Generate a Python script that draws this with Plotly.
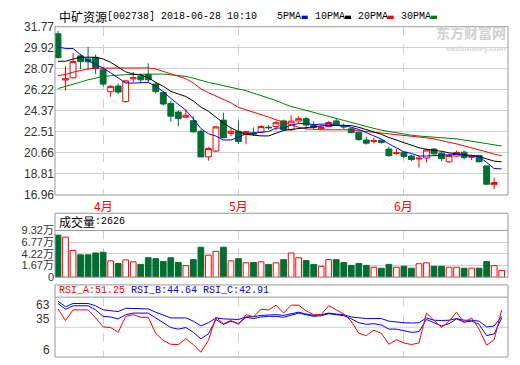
import plotly.graph_objects as go

W, H = 520, 365

# ---------------- data ----------------
x_pos = list(range(1, 61))
month_ticks = [7, 25, 47]
month_labels = ["4月", "5月", "6月"]

open_ = [31.15, 27.08, 27.27, 29.20, 28.93, 29.08, 27.98, 26.05, 26.55, 25.18,
         27.18, 27.42, 27.58, 26.72, 25.97, 25.02, 24.26, 23.80, 23.50, 22.57,
         20.32, 20.83, 23.55, 22.38, 22.57, 22.30, 22.43, 22.50, 22.93, 22.98,
         23.48, 22.70, 23.47, 23.68, 23.10, 22.80, 22.98, 23.48, 23.02, 22.78,
         22.47, 21.80, 21.68, 21.77, 21.00, 20.62, 20.73, 20.39, 20.13, 20.22,
         21.00, 20.64, 19.88, 20.39, 20.73, 20.28, 20.44, 19.52, 17.87, None]
high = [31.40, 28.30, 29.45, 29.38, 30.00, 29.30, 28.18, 26.65, 26.78, 27.10,
        27.78, 27.64, 28.55, 26.88, 26.10, 25.24, 24.40, 24.48, 23.90, 22.71,
        21.18, 23.05, 24.20, 22.85, 23.50, 22.57, 22.91, 23.12, 23.12, 23.50,
        23.60, 23.96, 23.90, 23.84, 23.45, 23.12, 23.48, 23.74, 23.25, 22.90,
        22.56, 22.10, 22.00, 21.85, 21.20, 21.00, 20.80, 20.50, 20.42, 21.05,
        21.10, 20.78, 20.59, 20.87, 20.87, 20.50, 20.50, 19.55, 18.48, None]
low = [28.98, 26.15, 27.22, 28.03, 27.98, 27.62, 26.50, 25.60, 25.82, 25.08,
       26.88, 26.80, 26.85, 25.86, 24.82, 23.42, 23.02, 23.78, 22.43, 20.31,
       19.98, 20.73, 21.95, 22.15, 21.44, 21.42, 22.15, 22.42, 22.68, 22.62,
       22.60, 22.60, 23.30, 22.72, 22.75, 22.70, 22.92, 23.05, 22.78, 22.40,
       21.71, 21.40, 21.48, 21.48, 20.30, 20.50, 20.22, 19.95, 19.38, 19.80,
       20.50, 19.94, 19.80, 20.30, 20.08, 20.02, 19.82, 17.86, 17.47, None]
close = [29.05, 27.20, 28.70, 28.70, 28.68, 28.08, 26.72, 26.52, 26.02, 27.00,
         27.28, 27.10, 27.10, 26.06, 24.97, 23.90, 23.70, 23.98, 22.52, 20.31,
         21.05, 22.95, 22.00, 22.57, 21.67, 22.55, 22.32, 22.98, 22.88, 23.32,
         22.70, 23.46, 23.68, 23.12, 22.90, 22.90, 23.34, 23.12, 22.96, 22.45,
         21.85, 21.52, 21.74, 21.57, 20.44, 20.67, 20.36, 20.08, 20.20, 20.92,
         20.58, 20.16, 20.44, 20.70, 20.25, 20.33, 19.88, 17.91, 18.06, None]

ma5 = [29.99, 29.85, 29.85, 29.35, 28.78, 28.45, 28.14, 27.71, 27.24, 26.81,
       26.81, 26.87, 26.87, 26.53, 26.05, 25.46, 24.90, 24.42, 23.66, 22.81,
       22.35, 22.15, 21.80, 21.80, 22.05, 22.35, 22.40, 22.50, 22.55, 22.85,
       22.85, 23.10, 23.25, 23.25, 23.15, 23.20, 23.20, 23.10, 23.10, 22.92,
       22.73, 22.45, 22.16, 21.88, 21.46, 21.12, 20.76, 20.62, 20.39, 20.39,
       20.42, 20.47, 20.47, 20.53, 20.47, 20.42, 20.33, 19.83, 19.29, 19.26]
ma10 = [28.73, 28.73, 28.93, 29.07, 29.09, 29.07, 28.93, 28.64, 28.22, 27.80,
        27.60, 27.52, 27.29, 26.87, 26.53, 26.08, 25.85, 25.63, 25.23, 24.70,
        24.33, 23.80, 23.29, 22.87, 22.53, 22.30, 22.22, 22.16, 22.16, 22.39,
        22.64, 22.73, 22.81, 22.92, 22.98, 23.04, 23.07, 23.07, 23.07, 23.07,
        22.92, 22.73, 22.50, 22.30, 22.02, 21.80, 21.60, 21.38, 21.12, 20.98,
        20.90, 20.81, 20.67, 20.56, 20.50, 20.45, 20.36, 20.14, 19.94, 19.88]
ma20 = [27.46, 27.57, 27.77, 27.94, 28.05, 28.12, 28.14, 28.14, 28.14, 28.14,
        28.14, 28.14, 28.14, 28.05, 27.85, 27.60, 27.43, 27.20, 26.81, 26.30,
        25.97, 25.66, 25.38, 25.07, 24.67, 24.47, 24.28, 24.08, 23.82, 23.58,
        23.36, 23.10, 22.92, 22.78, 22.72, 22.70, 22.70, 22.70, 22.70, 22.70,
        22.62, 22.55, 22.48, 22.42, 22.36, 22.30, 22.26, 22.18, 22.08, 21.99,
        21.90, 21.78, 21.60, 21.46, 21.30, 21.14, 20.96, 20.76, 20.56, 20.41]
ma30 = [26.33, 26.50, 26.67, 26.90, 27.10, 27.26, 27.38, 27.46, 27.52, 27.55,
        27.57, 27.60, 27.60, 27.60, 27.60, 27.55, 27.49, 27.40, 27.24, 27.03,
        26.87, 26.73, 26.59, 26.42, 26.28, 26.14, 25.92, 25.72, 25.50, 25.27,
        25.00, 24.75, 24.58, 24.40, 24.22, 24.05, 23.88, 23.70, 23.50, 23.33,
        23.15, 22.98, 22.82, 22.67, 22.55, 22.45, 22.32, 22.22, 22.15, 22.10,
        22.06, 22.02, 21.96, 21.90, 21.80, 21.70, 21.58, 21.48, 21.36, 21.27]

volume = [8.30, 7.88, 4.97, 4.00, 4.00, 4.41, 4.56, 2.69, 2.13, 2.90,
          2.48, 1.92, 3.37, 3.17, 2.54, 3.37, 2.33, 1.65, 2.96, 5.66,
          3.93, 4.76, 5.66, 2.69, 3.17, 2.27, 2.33, 2.48, 1.92, 2.27,
          2.96, 4.41, 3.37, 2.75, 1.92, 1.50, 2.96, 2.96, 2.33, 1.71,
          2.13, 1.71, 1.29, 1.09, 1.92, 1.29, 1.50, 1.09, 2.06, 2.27,
          1.50, 1.50, 1.29, 1.29, 1.09, 1.09, 1.09, 2.54, 1.65, 0.60]

rsi_a = [58.2, 43.5, 57.0, 57.0, 57.0, 46.8, 35.4, 34.6, 28.5, 48.8,
         50.9, 47.6, 47.6, 27.0, 18.3, 13.4, 13.0, 20.4, 13.0, 3.3,
         18.3, 47.6, 39.5, 43.5, 38.7, 50.9, 48.4, 57.8, 57.0, 63.0,
         52.9, 63.0, 63.0, 55.7, 50.9, 50.9, 62.5, 57.0, 51.7, 42.7,
         27.3, 24.4, 31.3, 27.3, 13.4, 19.1, 15.1, 13.0, 15.1, 52.9,
         43.5, 34.6, 42.7, 54.1, 40.7, 46.8, 32.6, 12.2, 19.1, 57.0]
rsi_b = [65.1, 57.8, 62.2, 62.2, 62.2, 57.0, 48.8, 48.0, 45.6, 50.9,
         52.9, 52.9, 52.9, 46.8, 40.7, 34.6, 32.6, 34.6, 28.5, 20.4,
         26.5, 44.8, 38.7, 42.7, 39.5, 47.6, 46.0, 48.0, 48.8, 48.8,
         47.6, 50.0, 52.9, 50.9, 48.8, 49.6, 52.1, 50.9, 49.6, 45.6,
         40.7, 38.7, 39.5, 37.8, 32.6, 32.6, 30.5, 28.5, 29.3, 44.8,
         40.7, 36.6, 39.5, 45.6, 41.5, 42.7, 38.7, 24.4, 26.5, 46.8]
rsi_c = [67.9, 61.0, 65.1, 65.1, 65.1, 62.2, 57.0, 56.0, 54.9, 59.0,
         59.0, 59.0, 58.2, 54.1, 50.9, 46.8, 46.8, 46.8, 42.7, 36.6,
         40.7, 46.8, 45.6, 45.6, 44.8, 48.0, 48.4, 50.0, 50.9, 50.9,
         50.0, 52.1, 54.1, 51.7, 50.0, 50.9, 52.9, 51.7, 50.9, 48.0,
         46.8, 46.0, 46.0, 46.0, 42.7, 41.5, 40.7, 40.3, 40.7, 46.8,
         43.9, 43.5, 43.9, 46.0, 43.9, 43.9, 42.7, 35.4, 36.6, 48.8]

price_ticks = [16.96, 18.81, 20.66, 22.51, 24.37, 26.22, 28.07, 29.92, 31.77]
vol_ticks = [-0.88, 1.67, 4.22, 6.77, 9.32]
vol_labels = ["0", "1.67万", "4.22万", "6.77万", "9.32万"]
rsi_ticks = [6, 35, 63]

title_name = "中矿资源"
title_code = "[002738] 2018-06-28 10:10"
vol_title = "成交量:2626"
rsi_titles = ["RSI_A:51.25", "RSI_B:44.64", "RSI_C:42.91"]
ma_names = ["5PMA", "10PMA", "20PMA", "30PMA"]
brand_cn = "东方财富网"
brand_en = "eastmoney.com"

# ---------------- style ----------------
RED = "#ff0000"
GREEN = "#006e32"
GRID = "#d0d0d0"
FRAME = "#999999"
TXT = "#333333"
MA_COLORS = ["#0000ff", "#000000", "#ff0000", "#008000"]
RSI_COLORS = ["#ff0000", "#0000ff", "#0000ff"]
VOL_MIN = vol_ticks[0]
XL, XR = 55, 508


def px(x):
    return x / W


def py(y):
    return 1 - y / H


fig = go.Figure()

fig.add_trace(go.Candlestick(
    x=x_pos, open=open_, high=high, low=low, close=close,
    increasing=dict(line=dict(color=RED, width=1), fillcolor="white"),
    decreasing=dict(line=dict(color=GREEN, width=1), fillcolor=GREEN),
    whiskerwidth=0, showlegend=False, hoverinfo="skip",
    xaxis="x", yaxis="y"))

for vals, col in zip([ma30, ma20, ma10, ma5], MA_COLORS[::-1]):
    fig.add_trace(go.Scatter(x=x_pos, y=vals, mode="lines",
                             line=dict(color=col, width=1),
                             showlegend=False, hoverinfo="skip",
                             xaxis="x", yaxis="y"))

up = []
for o, c in zip(open_, close):
    up.append(True if (o is None or c >= o) else False)

fig.add_trace(go.Bar(
    x=x_pos, y=[v - VOL_MIN for v in volume], base=VOL_MIN, width=0.76,
    marker=dict(color=["white" if u else GREEN for u in up],
                line=dict(color=[RED if u else GREEN for u in up], width=1)),
    showlegend=False, hoverinfo="skip", xaxis="x2", yaxis="y2"))

for vals, col in zip([rsi_c, rsi_b, rsi_a], RSI_COLORS[::-1]):
    fig.add_trace(go.Scatter(x=x_pos, y=vals, mode="lines",
                             line=dict(color=col, width=1),
                             showlegend=False, hoverinfo="skip",
                             xaxis="x3", yaxis="y3"))

tickfont = dict(family="Liberation Sans, Arial, sans-serif", size=12, color=TXT)
xcommon = dict(domain=[px(XL), px(XR)], range=[0.6, 60.84],
               tickvals=month_ticks, showgrid=True, gridcolor=GRID,
               griddash="dash", gridwidth=1, zeroline=False, showline=False,
               ticks="", fixedrange=True, showticklabels=False)

fig.update_layout(
    width=W, height=H, margin=dict(l=0, r=0, t=0, b=0),
    paper_bgcolor="white", plot_bgcolor="white",
    boxgap=0.22, boxgroupgap=0,
    xaxis=dict(**xcommon, anchor="y", rangeslider=dict(visible=False)),
    xaxis2=dict(**xcommon, anchor="y2"),
    xaxis3=dict(**xcommon, anchor="y3"),
    yaxis=dict(domain=[py(195.5), py(20.5)], range=[price_ticks[0], price_ticks[-1]],
               tickvals=price_ticks, ticktext=["%.2f" % v for v in price_ticks],
               showgrid=True, gridcolor=GRID, zeroline=False, ticks="",
               tickfont=tickfont, fixedrange=True, anchor="x"),
    yaxis2=dict(domain=[py(281), py(232.4)], range=[VOL_MIN, vol_ticks[-1]],
                tickvals=vol_ticks, ticktext=vol_labels,
                showgrid=True, gridcolor=GRID, zeroline=False, ticks="",
                tickfont=dict(family="Liberation Sans, Noto Sans CJK SC, sans-serif",
                              size=11, color=TXT),
                fixedrange=True, anchor="x2"),
    yaxis3=dict(domain=[py(364), py(302)], range=[-2.8, 72.8],
                tickvals=rsi_ticks, showgrid=False, zeroline=False, ticks="",
                showticklabels=False, fixedrange=True, anchor="x3"),
)

shapes = []
for (y0, y1) in [(20.5, 195.5), (214.5, 281), (289, 364)]:
    shapes.append(dict(type="rect", xref="paper", yref="paper",
                       x0=px(XL), x1=px(XR), y0=py(y1), y1=py(y0),
                       line=dict(color=FRAME, width=1)))
for y in [232.4, 301.7]:
    shapes.append(dict(type="line", xref="paper", yref="paper",
                       x0=px(XL), x1=px(XR), y0=py(y), y1=py(y),
                       line=dict(color=FRAME, width=1)))
shapes.append(dict(type="line", xref="paper", yref="y3", x0=px(XL), x1=px(XR),
                   y0=rsi_ticks[1], y1=rsi_ticks[1], line=dict(color=GRID, width=1),
                   layer="below"))
chip_x = [301.7, 345.0, 387.7, 431.0]
for cx, col in zip(chip_x, MA_COLORS):
    shapes.append(dict(type="rect", xref="paper", yref="paper",
                       x0=px(cx), x1=px(cx + 6), y0=py(12.5), y1=py(9),
                       fillcolor=col, line=dict(width=0)))
fig.update_layout(shapes=shapes)

mono = "Liberation Mono, DejaVu Sans Mono, monospace"
cjk = "Noto Sans CJK SC, sans-serif"
ann = []
ann.append(dict(text=title_name, x=px(56.5), y=py(10), xanchor="left", yanchor="middle",
                xref="paper", yref="paper", font=dict(family=cjk, size=12, color="#000")))
ann.append(dict(text=title_code, x=px(104.5), y=py(10), xanchor="left", yanchor="middle",
                xref="paper", yref="paper", font=dict(family=mono, size=10, color="#000")))
for nx, name in zip([275, 313, 356, 399], ma_names):
    ann.append(dict(text=name, x=px(nx), y=py(10), xanchor="left", yanchor="middle",
                    xref="paper", yref="paper", font=dict(family=mono, size=10, color="#000")))
for mt, ml in zip(month_ticks, month_labels):
    ann.append(dict(text=ml, x=mt, y=py(206), xref="x", yref="paper",
                    xanchor="center", yanchor="middle",
                    font=dict(family=cjk, size=12, color=RED)))
ann.append(dict(text=vol_title[:3], x=px(56.5), y=py(222.8), xanchor="left", yanchor="middle",
                xref="paper", yref="paper", font=dict(family=cjk, size=12, color="#000")))
ann.append(dict(text=vol_title[3:], x=px(92.5), y=py(222.8), xanchor="left", yanchor="middle",
                xref="paper", yref="paper", font=dict(family=mono, size=10, color="#000")))
for tx, t, col in zip([56.7, 129.0, 200.7], rsi_titles, RSI_COLORS):
    ann.append(dict(text=t, x=px(tx), y=py(295), xanchor="left", yanchor="middle",
                    xref="paper", yref="paper", font=dict(family=mono, size=10, color=col)))
for rv, shift in zip(rsi_ticks, [0, 8, 0]):
    ann.append(dict(text=str(rv), x=px(52), y=rv, xref="paper", yref="y3",
                    xanchor="right", yanchor="middle", yshift=shift,
                    font=tickfont))
# watermark
ann.append(dict(text="<b>%s</b>" % brand_cn, x=px(507), y=py(37), xref="paper", yref="paper",
                xanchor="right", yanchor="bottom", borderpad=0,
                font=dict(family=cjk, size=14, color="#d0d0d0")))
ann.append(dict(text="<b>%s</b>" % brand_en, x=px(507), y=py(37.5), xref="paper", yref="paper",
                xanchor="right", yanchor="top", borderpad=0,
                font=dict(family="Liberation Sans, sans-serif", size=8, color="#d5d5d5")))
for a in ann:
    a.update(showarrow=False)
fig.update_layout(annotations=ann)

fig.write_html("out.html", config={"displayModeBar": False},
               post_script="document.body.style.margin='0px';")
